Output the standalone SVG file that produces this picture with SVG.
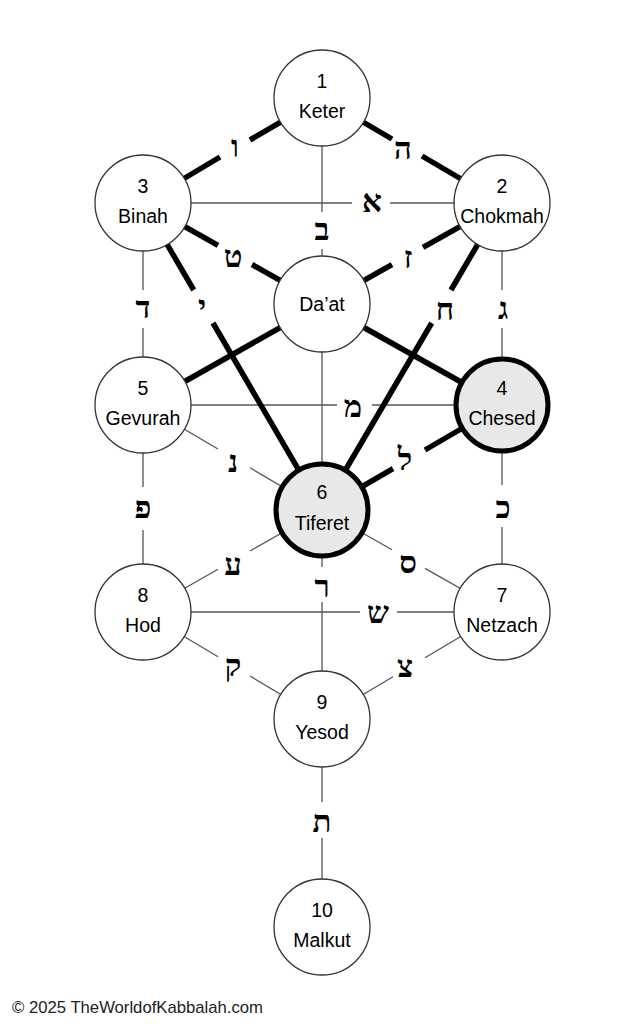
<svg xmlns="http://www.w3.org/2000/svg" width="633" height="1024" viewBox="0 0 633 1024">
<style>
.thin{fill:none;stroke:#555;stroke-width:1.3}
.thick{fill:none;stroke:#000;stroke-width:5.5}
.n{fill:#fff;stroke:#333;stroke-width:1.3}
.hn{fill:#e8e8e8;stroke:#000;stroke-width:5}
.t{font-family:"Liberation Sans",Arial,sans-serif;font-size:19.5px;fill:#000;text-anchor:middle}
.h{font-family:"Liberation Serif","DejaVu Serif",serif;font-size:31px;font-weight:bold;fill:#000;text-anchor:middle}
.c{font-family:"Liberation Sans",Arial,sans-serif;font-size:17px;fill:#222}
</style>
<rect width="633" height="1024" fill="#fff"/>
<g id="connectors">
<path class="thin" d="M143,203 L352,203 M390,203 L502,203"/>
<path class="thin" d="M322,98 L322,212 M322,249 L322,304"/>
<path class="thin" d="M143,203 L143,290 M143,328 L143,405"/>
<path class="thin" d="M502,203 L502,290 M502,328 L502,405"/>
<path class="thin" d="M143,405 L337,405 M372,405 L502,405"/>
<path class="thin" d="M322,304 L322,510"/>
<path class="thin" d="M143,405 L218,449 M250,467.8 L322,510"/>
<path class="thin" d="M143,405 L143,487 M143,530 L143,612"/>
<path class="thin" d="M502,405 L502,485 M502,527 L502,612"/>
<path class="thin" d="M322,510 L250,551 M218,569.3 L143,612"/>
<path class="thin" d="M322,510 L392,549.7 M425,568.4 L502,612"/>
<path class="thin" d="M322,510 L322,567 M322,602 L322,719"/>
<path class="thin" d="M143,612 L360,612 M397,612 L502,612"/>
<path class="thin" d="M143,612 L218,656.8 M250,676 L322,719"/>
<path class="thin" d="M502,612 L425,657.7 M393,676.8 L322,719"/>
<path class="thin" d="M322,719 L322,802 M322,838 L322,927"/>
<path class="thick" d="M322,98 L250,140 M220,157 L143,203"/>
<path class="thick" d="M322,98 L392,139 M422,156 L502,203"/>
<path class="thick" d="M143,203 L218,245.3 M252,264.5 L322,304"/>
<path class="thick" d="M502,203 L423,247.3 M392,264.7 L322,304"/>
<path class="thick" d="M143,203 L193.7,290 M213,323 L322,510"/>
<path class="thick" d="M502,203 L451,290 M431.7,323 L322,510"/>
<path class="thick" d="M322,304 L143,405"/>
<path class="thick" d="M322,304 L502,405"/>
<path class="thick" d="M502,405 L425,450 M393,468.6 L322,510"/>
<g id="path-letters">
<text class="h" x="235" y="157">ו</text>
<text class="h" x="403" y="159">ה</text>
<text class="h" x="372" y="212">א</text>
<text class="h" x="322" y="240">ב</text>
<text class="h" x="233" y="267">ט</text>
<text class="h" x="408" y="268">ז</text>
<text class="h" x="143" y="318">ד</text>
<text class="h" x="202" y="317">י</text>
<text class="h" x="445" y="320">ח</text>
<text class="h" x="503" y="319">ג</text>
<text class="h" x="353" y="417">מ</text>
<text class="h" x="233" y="472">נ</text>
<text class="h" x="405" y="470">ל</text>
<text class="h" x="143" y="518">פ</text>
<text class="h" x="503" y="518">כ</text>
<text class="h" x="233" y="575">ע</text>
<text class="h" x="408" y="573">ס</text>
<text class="h" x="322" y="597">ר</text>
<text class="h" x="378" y="623">ש</text>
<text class="h" x="233" y="676">ק</text>
<text class="h" x="405" y="677">צ</text>
<text class="h" x="322" y="832">ת</text>
</g>
</g>
<g id="keter"><circle class="n" cx="322" cy="98" r="48"/><text class="t" x="322" y="88">1</text><text class="t" x="322" y="118">Keter</text></g>
<g id="binah"><circle class="n" cx="143" cy="203" r="48"/><text class="t" x="143" y="193">3</text><text class="t" x="143" y="223">Binah</text></g>
<g id="chokmah"><circle class="n" cx="502" cy="203" r="48"/><text class="t" x="502" y="193">2</text><text class="t" x="502" y="223">Chokmah</text></g>
<g id="daat"><circle class="n" cx="322" cy="304" r="48"/><text class="t" x="322" y="311">Da’at</text></g>
<g id="gevurah"><circle class="n" cx="143" cy="405" r="48"/><text class="t" x="143" y="395">5</text><text class="t" x="143" y="425">Gevurah</text></g>
<g id="chesed"><circle class="hn" cx="502" cy="405" r="46"/><text class="t" x="502" y="395">4</text><text class="t" x="502" y="425">Chesed</text></g>
<g id="tiferet"><circle class="hn" cx="322" cy="510" r="46"/><text class="t" x="322" y="499">6</text><text class="t" x="322" y="530">Tiferet</text></g>
<g id="hod"><circle class="n" cx="143" cy="612" r="48"/><text class="t" x="143" y="602">8</text><text class="t" x="143" y="632">Hod</text></g>
<g id="netzach"><circle class="n" cx="502" cy="612" r="48"/><text class="t" x="502" y="602">7</text><text class="t" x="502" y="632">Netzach</text></g>
<g id="yesod"><circle class="n" cx="322" cy="719" r="48"/><text class="t" x="322" y="709">9</text><text class="t" x="322" y="739">Yesod</text></g>
<g id="malkut"><circle class="n" cx="322" cy="927" r="48"/><text class="t" x="322" y="917">10</text><text class="t" x="322" y="947">Malkut</text></g>
<text class="c" x="12" y="1013" textLength="251" lengthAdjust="spacingAndGlyphs">© 2025 TheWorldofKabbalah.com</text>
</svg>
